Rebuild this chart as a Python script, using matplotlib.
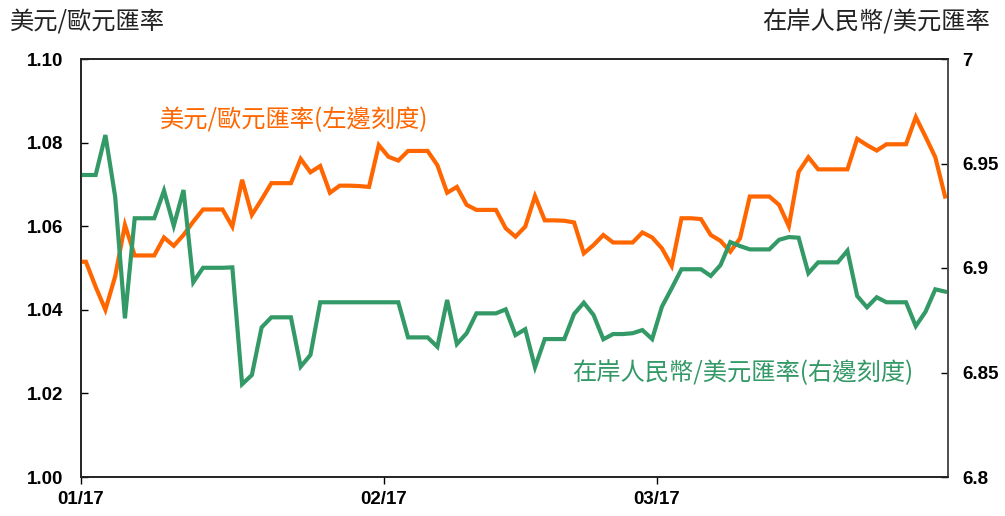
import matplotlib
matplotlib.use("Agg")
import matplotlib.dates as mdates
import pandas as pd
from matplotlib import font_manager
from matplotlib import pyplot as plt

# daily series, weekends carry the last quote forward
START = "2017-01-16"
eur_usd = [
    1.0515, 1.0515, 1.0455, 1.0400, 1.0480, 1.0603, 1.0530, 1.0530, 1.0530, 1.0573,
    1.0553, 1.0579, 1.0611, 1.0640, 1.0640, 1.0640, 1.0599, 1.0711, 1.0627, 1.0664,
    1.0703, 1.0703, 1.0703, 1.0761, 1.0729, 1.0744, 1.0680, 1.0697, 1.0697, 1.0696,
    1.0694, 1.0794, 1.0766, 1.0757, 1.0780, 1.0780, 1.0780, 1.0746, 1.0680, 1.0694,
    1.0651, 1.0639, 1.0639, 1.0639, 1.0595, 1.0575, 1.0599, 1.0672, 1.0614, 1.0614,
    1.0613, 1.0609, 1.0535, 1.0555, 1.0579, 1.0561, 1.0561, 1.0561, 1.0585, 1.0573,
    1.0547, 1.0505, 1.0619, 1.0619, 1.0617, 1.0579, 1.0565, 1.0539, 1.0571, 1.0671,
    1.0671, 1.0671, 1.0651, 1.0600, 1.0730, 1.0765, 1.0736, 1.0736, 1.0736, 1.0736,
    1.0809, 1.0794, 1.0781, 1.0796, 1.0796, 1.0796, 1.0861, 1.0814, 1.0765, 1.0671,
]
usd_cny = [
    6.9445, 6.9445, 6.9445, 6.9636, 6.9341, 6.8759, 6.9238, 6.9238, 6.9238, 6.9370,
    6.9202, 6.9373, 6.8932, 6.9001, 6.9001, 6.9001, 6.9003, 6.8444, 6.8488, 6.8716,
    6.8764, 6.8764, 6.8764, 6.8528, 6.8584, 6.8836, 6.8836, 6.8836, 6.8836, 6.8836,
    6.8836, 6.8836, 6.8836, 6.8836, 6.8668, 6.8668, 6.8668, 6.8623, 6.8847, 6.8636,
    6.8688, 6.8783, 6.8783, 6.8783, 6.8802, 6.8679, 6.8707, 6.8525, 6.8660, 6.8660,
    6.8660, 6.8780, 6.8834, 6.8775, 6.8659, 6.8684, 6.8684, 6.8688, 6.8703, 6.8660,
    6.8815, 6.8903, 6.8994, 6.8994, 6.8994, 6.8962, 6.9014, 6.9124, 6.9105, 6.9089,
    6.9089, 6.9089, 6.9135, 6.9148, 6.9145, 6.8975, 6.9027, 6.9027, 6.9027, 6.9083,
    6.8866, 6.8812, 6.8860, 6.8836, 6.8836, 6.8836, 6.8722, 6.8791, 6.8898, 6.8887,
]
x_ticks = ["2017-01-17", "2017-02-17", "2017-03-17"]
left_ticks = [1.00, 1.02, 1.04, 1.06, 1.08, 1.10]
right_ticks = [6.8, 6.85, 6.9, 6.95, 7.0]
right_tick_labels = ["6.8", "6.85", "6.9", "6.95", "7"]

ORANGE = "#FF6600"
GREEN = "#339966"
CJK = ["Noto Sans CJK TC", "DejaVu Sans"]

installed = {f.name for f in font_manager.fontManager.ttflist}
NUM_FONT = "Liberation Sans Narrow" if "Liberation Sans Narrow" in installed else "Liberation Sans"

# each point sits in the middle of its day
dates = pd.date_range(START, periods=len(eur_usd), freq="D") + pd.Timedelta(hours=12)

fig = plt.figure(figsize=(10.05, 5.16), dpi=100)
ax = fig.add_axes([81 / 1005, 39 / 516, 867 / 1005, 418 / 516])
ax2 = ax.twinx()

ax.plot(dates, eur_usd, color=ORANGE, lw=3.0, solid_joinstyle="miter", zorder=3)
ax2.plot(dates, usd_cny, color=GREEN, lw=3.0, solid_joinstyle="miter", zorder=2)

x0 = pd.Timestamp(x_ticks[0])
ax.set_xlim(x0, x0 + pd.Timedelta(days=88.8))
ax.set_ylim(1.00, 1.10)
ax2.set_ylim(6.8, 7.0)

ax.set_xticks(pd.to_datetime(x_ticks))
ax.xaxis.set_major_formatter(mdates.DateFormatter("%m/%d"))
ax.set_yticks(left_ticks)
ax.set_yticklabels([f"{v:.2f}" for v in left_ticks])
ax2.set_yticks(right_ticks)
ax2.set_yticklabels(right_tick_labels)

num_font = font_manager.FontProperties(family=NUM_FONT, weight="bold", size=13.5)
for lbl in ax.get_xticklabels() + ax.get_yticklabels() + ax2.get_yticklabels():
    lbl.set_fontproperties(num_font)

ax.tick_params(axis="x", direction="out", length=5, width=1, pad=5)
ax.tick_params(axis="y", direction="in", length=5, width=1, pad=13)
ax2.tick_params(axis="y", direction="in", length=5, width=1, pad=10)

for a in (ax, ax2):
    for s in a.spines.values():
        s.set_linewidth(1.2)
        s.set_color("#222222")
ax2.spines["right"].set_color("#555555")

ax.text(0.091, 0.854, "美元/歐元匯率(左邊刻度)", transform=ax.transAxes,
        color=ORANGE, fontsize=17.5, family=CJK, va="center", ha="left")
ax.text(0.566, 0.249, "在岸人民幣/美元匯率(右邊刻度)", transform=ax.transAxes,
        color=GREEN, fontsize=17.5, family=CJK, va="center", ha="left")

fig.text(0.01, 0.957, "美元/歐元匯率", fontsize=17.5, family=CJK,
         color="#222222", va="center", ha="left")
fig.text(0.985, 0.957, "在岸人民幣/美元匯率", fontsize=17.5, family=CJK,
         color="#222222", va="center", ha="right")

fig.savefig("out.png", dpi=100)
